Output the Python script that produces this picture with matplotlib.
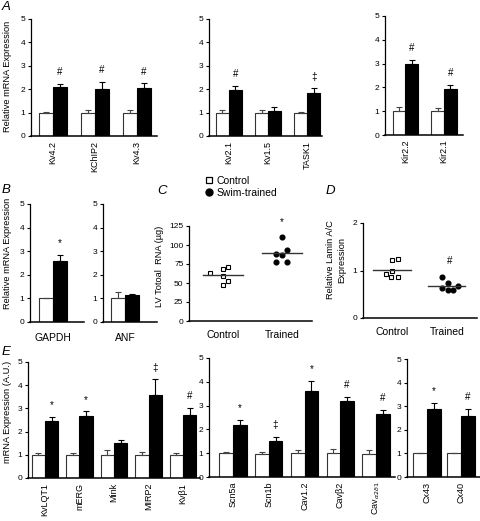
"""Multi-panel mRNA expression figure (panels A-E)."""
import matplotlib
matplotlib.use("Agg")
import matplotlib.pyplot as plt
from matplotlib.lines import Line2D
import numpy as np

plt.rcParams["font.family"] = ["Liberation Sans", "DejaVu Sans"]

# ── data ────────────────────────────────────────────────────────────────
a1_genes = ["Kv4.2", "KChIP2", "Kv4.3"]
a1_ctrl = [1.0, 1.0, 1.0]
a1_ctrl_err = [0.04, 0.11, 0.11]
a1_train = [2.08, 2.02, 2.05]
a1_train_err = [0.14, 0.30, 0.20]
a1_sig = ["#", "#", "#"]

a2_genes = ["Kv2.1", "Kv1.5", "TASK1"]
a2_ctrl = [1.0, 1.0, 1.0]
a2_ctrl_err = [0.09, 0.13, 0.04]
a2_train = [1.95, 1.08, 1.82]
a2_train_err = [0.18, 0.16, 0.22]
a2_sig = ["#", "", "\u2021"]

a3_genes = ["Kir2.2", "Kir2.1"]
a3_ctrl = [1.0, 1.0]
a3_ctrl_err = [0.18, 0.12]
a3_train = [2.98, 1.93]
a3_train_err = [0.18, 0.16]
a3_sig = ["#", "#"]

b1_genes = ["GAPDH"]
b1_ctrl = [1.0]
b1_ctrl_err = [0.03]
b1_train = [2.59]
b1_train_err = [0.24]
b1_sig = ["*"]

b2_genes = ["ANF"]
b2_ctrl = [1.0]
b2_ctrl_err = [0.28]
b2_train = [1.15]
b2_train_err = [0.05]
b2_sig = [""]

groups_cd = ["Control", "Trained"]
c_ctrl_rna = [63, 69, 71, 59, 48, 52.6]
c_train_rna = [110.5, 88.6, 86.4, 93.9, 77.6, 77.6]
c_ctrl_jitter = [-0.22, 0.0, 0.09, 0.0, 0.0, 0.09]
c_train_jitter = [0.0, -0.1, 0.0, 0.09, -0.1, 0.09]

d_ctrl_lamin = [1.22, 1.24, 0.99, 0.92, 0.86, 0.86]
d_train_lamin = [0.87, 0.74, 0.64, 0.58, 0.58, 0.68]
d_ctrl_jitter = [0.0, 0.1, 0.0, -0.11, -0.02, 0.1]
d_train_jitter = [-0.08, 0.02, -0.08, 0.02, 0.11, 0.2]

e1_genes = ["KvLQT1", "mERG", "Mink", "MIRP2", "Kv\u03b21"]
e1_ctrl = [1.0, 1.0, 1.0, 1.0, 0.97]
e1_ctrl_err = [0.06, 0.09, 0.20, 0.12, 0.12]
e1_train = [2.45, 2.69, 1.50, 3.56, 2.70]
e1_train_err = [0.19, 0.18, 0.13, 0.70, 0.32]
e1_sig = ["*", "*", "", "\u2021", "#"]

e2_genes = ["Scn5a", "Scn1b", "Cav1.2", "Cav\u03b22", r"Cav$_{\alpha2\delta1}$"]
e2_ctrl = [1.0, 0.98, 1.0, 1.0, 0.97]
e2_ctrl_err = [0.03, 0.06, 0.15, 0.18, 0.17]
e2_train = [2.20, 1.53, 3.60, 3.20, 2.65]
e2_train_err = [0.20, 0.15, 0.42, 0.18, 0.16]
e2_sig = ["*", "\u2021", "*", "#", "#"]

e3_genes = ["Cx43", "Cx40"]
e3_ctrl = [1.0, 1.0]
e3_ctrl_err = [0.03, 0.03]
e3_train = [2.90, 2.60]
e3_train_err = [0.24, 0.30]
e3_sig = ["*", "#"]

# ── layout helpers ──────────────────────────────────────────────────────
W, H = 480, 521
fig = plt.figure(figsize=(W / 100, H / 100), dpi=100)


def px_axes(left, right, top, bottom):
    ax = fig.add_axes([left / W, 1 - bottom / H, (right - left) / W, (bottom - top) / H])
    ax.spines[["top", "right"]].set_visible(False)
    ax.spines["left"].set_linewidth(0.9)
    ax.spines["bottom"].set_linewidth(1.1)
    ax.patch.set_alpha(0)
    ax.tick_params(axis="y", length=2.5, width=0.8, labelsize=6, pad=1.5)
    ax.tick_params(axis="x", length=0)
    return ax


def bar_panel(ax, genes, ctrl, ctrl_err, train, train_err, sig, xlim, width,
              rot=90, pad=3.5, lsize=6.5):
    x = np.arange(len(genes))
    n = len(genes)
    ax.bar(x - width / 2, ctrl, width, color="white", edgecolor="#333333", lw=0.8)
    ax.bar(x + width / 2, train, width, color="black", edgecolor="black", lw=0.8)
    ax.errorbar(x - width / 2, ctrl, yerr=[np.zeros(n), ctrl_err], fmt="none",
                ecolor="#444444", elinewidth=0.8, capsize=2.5, capthick=0.8)
    ax.errorbar(x + width / 2, train, yerr=[np.zeros(n), train_err], fmt="none",
                ecolor="black", elinewidth=0.8, capsize=2.5, capthick=0.8)
    for xi, t, e, s in zip(x, train, train_err, sig):
        if s:
            ax.text(xi + width / 2, t + e + 0.5, s, ha="center", va="center",
                    fontsize=7)
    ax.set_xlim(*xlim)
    ax.set_ylim(0, 5)
    ax.set_yticks(range(6))
    ax.set_xticks(x, genes, rotation=rot, fontsize=lsize)
    ax.tick_params(axis="x", pad=pad)


def scatter_panel(ax, ctrl, train, ctrl_jit, train_jit, xlim):
    ax.plot(np.array(ctrl_jit), ctrl, "s", mfc="white", mec="black", ms=3.4, mew=0.8)
    ax.plot(1 + np.array(train_jit), train, "o", mfc="black", mec="black", ms=3.4)
    for xi, vals in zip([0, 1], [ctrl, train]):
        m = np.mean(vals)
        ax.plot([xi - 0.34, xi + 0.34], [m, m], color="#333333", lw=1.0)
    ax.set_xlim(*xlim)
    ax.set_xticks([0, 1], groups_cd, fontsize=7.5)
    ax.tick_params(axis="x", pad=6.5)


def ftext(x, y, s, **kw):
    fig.text(x / W, 1 - y / H, s, **kw)


# ── panel A ────────────────────────────────────────────────────────────
ax = px_axes(31, 157, 19, 136)
bar_panel(ax, a1_genes, a1_ctrl, a1_ctrl_err, a1_train, a1_train_err, a1_sig,
          (-0.52, 2.48), 0.33)
ax = px_axes(209, 322, 19, 136)
bar_panel(ax, a2_genes, a2_ctrl, a2_ctrl_err, a2_train, a2_train_err, a2_sig,
          (-0.51, 2.38), 0.33)
ax = px_axes(385, 463, 16, 135)
bar_panel(ax, a3_genes, a3_ctrl, a3_ctrl_err, a3_train, a3_train_err, a3_sig,
          (-0.53, 1.49), 0.33)

# ── panel B ────────────────────────────────────────────────────────────
ax = px_axes(30, 84, 204, 322)
bar_panel(ax, b1_genes, b1_ctrl, b1_ctrl_err, b1_train, b1_train_err, b1_sig,
          (-0.575, 0.775), 0.34, rot=0, pad=8, lsize=7.5)
ax = px_axes(103, 157, 204, 322)
bar_panel(ax, b2_genes, b2_ctrl, b2_ctrl_err, b2_train, b2_train_err, b2_sig,
          (-0.55, 0.8), 0.34, rot=0, pad=8, lsize=7.5)

# ── panel C ────────────────────────────────────────────────────────────
ax = px_axes(189, 312, 226, 321)
scatter_panel(ax, c_ctrl_rna, c_train_rna, c_ctrl_jitter, c_train_jitter,
              (-0.58, 1.51))
ax.set_ylim(0, 125)
ax.set_yticks(range(0, 126, 25))
ax.text(1, max(c_train_rna) + 19.5, "*", ha="center", va="center", fontsize=7,
        clip_on=False)

# ── panel D ────────────────────────────────────────────────────────────
ax = px_axes(363, 477, 223, 318)
scatter_panel(ax, d_ctrl_lamin, d_train_lamin, d_ctrl_jitter, d_train_jitter,
              (-0.53, 1.55))
ax.set_ylim(0, 2)
ax.set_yticks([0, 1, 2])
ax.text(1.05, max(d_train_lamin) + 0.33, "#", ha="center", va="center", fontsize=7)

# ── panel E ────────────────────────────────────────────────────────────
ax = px_axes(28, 200, 362, 478)
bar_panel(ax, e1_genes, e1_ctrl, e1_ctrl_err, e1_train, e1_train_err, e1_sig,
          (-0.49, 4.49), 0.385)
ax = px_axes(209, 395, 358, 477)
bar_panel(ax, e2_genes, e2_ctrl, e2_ctrl_err, e2_train, e2_train_err, e2_sig,
          (-0.67, 4.53), 0.38)
ax = px_axes(407, 480, 359, 477)
bar_panel(ax, e3_genes, e3_ctrl, e3_ctrl_err, e3_train, e3_train_err, e3_sig,
          (-0.59, 1.56), 0.41)

# ── labels and legend ───────────────────────────────────────────────────
lab = dict(rotation=90, ha="center", va="center", fontsize=6.7)
ftext(8, 76, "Relative mRNA Expression", **lab)
ftext(8, 253, "Relative mRNA Expression", **lab)
ftext(8, 412, "mRNA Expression (A.U.)", **lab)
ftext(160, 266, "LV Totoal  RNA (\u00b5g)", **lab)
ftext(336, 260, "Relative Lamin A/C\nExpression", linespacing=1.3, **lab)

for letter, (px, py) in {"A": (2, 1), "B": (2, 184), "C": (157, 185),
                         "D": (326, 185), "E": (2, 346)}.items():
    ftext(px, py, letter, fontsize=9.5, style="italic", va="top", ha="left")

handles = [Line2D([], [], marker="s", ls="", mfc="white", mec="black", ms=5, mew=0.9),
           Line2D([], [], marker="o", ls="", mfc="black", mec="black", ms=5)]
fig.legend(handles, ["Control", "Swim-trained"], loc="upper left",
           bbox_to_anchor=(204 / W, 1 - 176 / H), frameon=False, fontsize=7.5,
           handletextpad=0.2, labelspacing=0.15, borderpad=0, handlelength=1.0,
           borderaxespad=0)

fig.savefig("out.png", dpi=100)
plt.close(fig)
